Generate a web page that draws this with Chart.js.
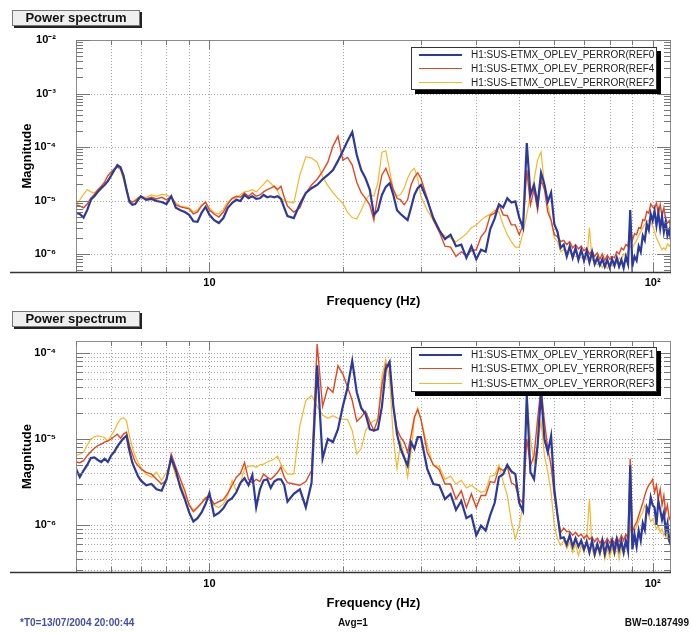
<!DOCTYPE html>
<html>
<head>
<meta charset="utf-8">
<script src="https://cdn.jsdelivr.net/npm/chart.js@4.4.1/dist/chart.umd.min.js"></script>
<style>
  body { margin: 0; background: #fff; width: 692px; height: 633px; position: relative; overflow: hidden;
         font-family: "Liberation Sans", Arial, sans-serif; }
  .plot { position: absolute; left: 0; width: 692px; height: 315px; }
  .title-box { position: absolute; left: 12px; width: 126px; height: 14px; border: 1px solid #777;
               background: #efefef; box-shadow: 2px 2px 0 #222; font-weight: bold; font-size: 13px;
               line-height: 14px; text-align: center; color: #111; }
  .legend { position: absolute; left: 411px; width: 244px; height: 41px; border: 1px solid #333;
            background: #fff; box-shadow: 4px 4px 0 #000; overflow: hidden; font-size: 10px; color: #222; }
  .legend .row { position: absolute; left: 0; width: 100%; height: 14px; }
  .legend .sw { position: absolute; left: 7px; width: 43px; top: 6px; }
  .legend .lab { position: absolute; left: 59px; top: 0; line-height: 14px; white-space: nowrap; }
  .foot { position: absolute; top: 617px; font-weight: bold; font-size: 10px; line-height: 12px; }
</style>
</head>
<body>

<div class="plot" style="top:0"><canvas id="topChart" width="692" height="315"></canvas></div>
<div class="plot" style="top:300px"><canvas id="botChart" width="692" height="315"></canvas></div>

<div class="title-box" style="top:10px">Power spectrum</div>
<div class="title-box" style="top:311px">Power spectrum</div>

<div class="legend" id="topLegend" style="top:47px"></div>
<div class="legend" id="botLegend" style="top:347px; height:43px"></div>

<div class="foot" style="left:20px; color:#4250a8">*T0=13/07/2004 20:00:44</div>
<div class="foot" style="left:338px; color:#111">Avg=1</div>
<div class="foot" style="right:3px; color:#111">BW=0.187499</div>

<script>
// --- Data ---
const freqs = [
  5.0, 5.1, 5.2, 5.3, 5.4, 5.5, 5.6, 5.7, 5.8, 5.9, 6.0, 6.1, 6.2, 6.3, 6.4, 6.5, 6.6, 6.7, 6.8, 6.9, 7.0,
  7.2, 7.4, 7.6, 7.8, 8.0, 8.2, 8.4, 8.6, 8.8, 9.0, 9.2, 9.4, 9.6, 9.8, 10.0,
  10.25, 10.5, 10.75, 11.0, 11.25, 11.5, 11.75, 12.0, 12.25, 12.5, 12.75, 13.0, 13.25, 13.5, 13.75, 14.0, 14.25, 14.5, 14.75, 15.0,
  15.5, 16.0, 16.5, 17.0, 17.5, 18.0, 18.5, 19.0, 19.5, 20.0,
  20.5, 21.0, 21.5, 22.0, 22.5, 23.0, 23.5, 24.0, 24.5, 25.0, 25.5, 26.0, 26.5, 27.0, 27.5, 28.0, 28.5, 29.0, 29.5, 30.0,
  31, 32, 33, 34, 35, 36, 37, 38, 39, 40, 41, 42, 43, 44, 45, 46, 47, 48, 49, 50,
  51, 52, 53, 54, 55, 56, 57, 58, 59, 60, 61, 62, 63, 64, 65, 66, 67, 68, 69, 70,
  71, 72, 73, 74, 75, 76, 77, 78, 79, 80, 81, 82, 83, 84, 85, 86, 87, 88, 89, 90,
  91, 92, 93, 94, 95, 96, 97, 98, 99, 100, 101, 102, 103, 104, 105, 106, 107, 108, 109, 110
];

// top panel: PERROR
const topBlue = [
  5.9e-6, 5.6e-6, 4.8e-6, 6.6e-6, 1.03e-5, 1.2e-5, 1.45e-5, 1.7e-5, 1.95e-5, 2.3e-5, 2.9e-5, 3.7e-5, 4.6e-5, 4.2e-5, 2.9e-5, 1.6e-5, 9.4e-6, 8.3e-6, 8.6e-6, 1.03e-5, 1.2e-5,
  1.03e-5, 1.07e-5, 9.8e-6, 9.4e-6, 8.6e-6, 1.2e-5, 7.3e-6, 6.6e-6, 6.1e-6, 5.4e-6, 4.1e-6, 4.0e-6, 5.9e-6, 7.6e-6, 5.4e-6,
  4.3e-6, 3.8e-6, 4.7e-6, 7.3e-6, 9.0e-6, 1.03e-5, 9.8e-6, 1.27e-5, 1.1e-5, 1.2e-5, 1.07e-5, 1.1e-5, 1.27e-5, 1.15e-5, 1.2e-5, 1.15e-5, 1.2e-5, 1.07e-5, 7.3e-6, 5.1e-6,
  4.7e-6, 8.6e-6, 1.38e-5, 1.7e-5, 1.95e-5, 2.5e-5, 3.0e-5, 3.7e-5, 5.5e-5, 8.4e-5,
  1.3e-4, 1.9e-4, 7.1e-5, 3.7e-5, 2.6e-5, 1.6e-5, 5.4e-6, 6.6e-6, 1.27e-5, 1.8e-5, 2.1e-5, 1.27e-5, 6.6e-6, 5.6e-6, 4.9e-6, 4.3e-6, 7.3e-6, 1.27e-5, 1.7e-5, 1.95e-5,
  1.03e-5, 4.7e-6, 2.8e-6, 1.9e-6, 2.3e-6, 1.4e-6, 1.5e-6, 8.5e-7, 1.4e-6, 8.0e-7,
  1.2e-6, 1.1e-6, 2.9e-6, 4.6e-6, 8.5e-6, 7.4e-6, 1.1e-5, 9.2e-6, 9.6e-6, 4.8e-6,
  3.1e-6, 1.19e-4, 1.27e-5, 1.95e-5, 8.5e-6, 3.3e-5, 2.0e-5, 9.5e-6, 1.4e-5, 3.6e-6,
  2.6e-6, 1.3e-6, 1.5e-6, 9.0e-7, 1.4e-6, 8.5e-7, 1.3e-6, 7.8e-7, 1.2e-6, 7.5e-7,
  1.15e-6, 7.0e-7, 1.1e-6, 6.5e-7, 8.5e-7, 6.2e-7, 8.0e-7, 5.8e-7, 7.8e-7, 5.6e-7,
  8.0e-7, 6.0e-7, 8.5e-7, 5.8e-7, 7.8e-7, 5.5e-7, 9.0e-7, 6.5e-7, 6.6e-6, 6.0e-7,
  9.0e-7, 7.5e-7, 1.4e-6, 1.1e-6, 2.2e-6, 1.8e-6, 3.6e-6, 2.8e-6, 5.6e-6, 4.2e-6,
  6.4e-6, 3.4e-6, 5.8e-6, 3.0e-6, 5.0e-6, 2.6e-6, 4.0e-6, 2.2e-6, 2.8e-6, 1.8e-6
];
const topRed = [
  8.3e-6, 7.9e-6, 7.3e-6, 8.6e-6, 1.1e-5, 1.3e-5, 1.6e-5, 1.85e-5, 2.2e-5, 2.9e-5, 3.4e-5, 3.9e-5, 4.2e-5, 4.0e-5, 2.9e-5, 1.65e-5, 1.03e-5, 9.4e-6, 9.8e-6, 1.1e-5, 1.15e-5,
  1.07e-5, 1.15e-5, 1.07e-5, 1.15e-5, 1.03e-5, 1.2e-5, 8.3e-6, 7.6e-6, 7.3e-6, 7.0e-6, 5.6e-6, 6.1e-6, 7.9e-6, 9.4e-6, 6.6e-6,
  5.6e-6, 4.9e-6, 6.1e-6, 8.6e-6, 1.1e-5, 1.2e-5, 1.15e-5, 1.38e-5, 1.2e-5, 1.38e-5, 1.2e-5, 1.27e-5, 1.45e-5, 1.6e-5, 1.7e-5, 1.85e-5, 1.6e-5, 1.85e-5, 1.15e-5, 7.9e-6,
  6.1e-6, 7.3e-6, 1.38e-5, 1.95e-5, 2.5e-5, 3.5e-5, 5.2e-5, 1.04e-4, 1.6e-4, 5.7e-5,
  6.4e-5, 4.6e-5, 2.2e-5, 1.4e-5, 1.1e-5, 8.3e-6, 4.3e-6, 1.27e-5, 3.0e-5, 4.0e-5, 2.6e-5, 1.6e-5, 1.1e-5, 1.03e-5, 8.3e-6, 1.03e-5, 1.95e-5, 2.7e-5, 3.3e-5, 2.6e-5,
  1.1e-5, 4.3e-6, 2.6e-6, 1.4e-6, 1.35e-6, 9.0e-7, 1.1e-6, 9.5e-7, 1.15e-6, 1.2e-6,
  2.1e-6, 2.7e-6, 5.3e-6, 5.8e-6, 8.4e-6, 5.4e-6, 5.2e-6, 3.5e-6, 3.5e-6, 2.3e-6,
  3.5e-6, 3.7e-5, 8.3e-6, 1.6e-5, 6.6e-6, 2.4e-5, 1.6e-5, 6.1e-6, 4.3e-6, 2.3e-6,
  2.1e-6, 1.7e-6, 1.8e-6, 1.5e-6, 1.7e-6, 1.3e-6, 1.5e-6, 1.25e-6, 1.4e-6, 1.15e-6,
  1.3e-6, 1.0e-6, 1.15e-6, 9.0e-7, 1.05e-6, 8.0e-7, 1.0e-6, 7.6e-7, 9.5e-7, 8.0e-7,
  9.0e-7, 8.5e-7, 1.1e-6, 1.0e-6, 1.3e-6, 1.2e-6, 1.5e-6, 1.4e-6, 3.5e-6, 1.8e-6,
  2.4e-6, 2.3e-6, 3.1e-6, 3.0e-6, 4.4e-6, 4.2e-6, 6.2e-6, 5.8e-6, 8.6e-6, 7.6e-6,
  7.2e-6, 9.0e-6, 5.6e-6, 8.4e-6, 5.0e-6, 7.3e-6, 4.4e-6, 3.8e-6, 4.2e-6, 2.8e-6
];
const topYellow = [
  8.3e-6, 1.03e-5, 1.3e-5, 1.6e-5, 1.45e-5, 1.38e-5, 1.6e-5, 1.8e-5, 2.0e-5, 2.4e-5, 3.1e-5, 3.7e-5, 4.2e-5, 3.7e-5, 2.4e-5, 1.45e-5, 9.8e-6, 9.0e-6, 1.03e-5, 1.15e-5, 1.2e-5,
  1.15e-5, 1.27e-5, 1.2e-5, 1.3e-5, 1.27e-5, 1.15e-5, 9.0e-6, 7.9e-6, 7.6e-6, 7.3e-6, 6.1e-6, 6.6e-6, 8.3e-6, 9.0e-6, 7.3e-6,
  5.9e-6, 5.6e-6, 6.9e-6, 9.4e-6, 1.07e-5, 1.1e-5, 1.3e-5, 1.45e-5, 1.5e-5, 1.6e-5, 1.45e-5, 1.7e-5, 2.0e-5, 2.4e-5, 2.1e-5, 1.8e-5, 1.5e-5, 1.1e-5, 1.0e-5, 9.5e-6,
  9.0e-6, 3.0e-5, 6.6e-5, 6.2e-5, 5.2e-5, 2.8e-5, 1.9e-5, 1.4e-5, 1.1e-5, 8.8e-6,
  6.0e-6, 4.8e-6, 4.5e-6, 6.6e-6, 1.0e-5, 1.3e-5, 1.2e-5, 2.2e-5, 8.0e-5, 8.5e-5, 3.7e-5, 1.6e-5, 1.2e-5, 1.3e-5, 1.7e-5, 2.6e-5, 3.5e-5, 4.0e-5, 2.6e-5, 1.2e-5,
  6.6e-6, 4.3e-6, 2.6e-6, 2.2e-6, 2.0e-6, 1.7e-6, 2.0e-6, 2.4e-6, 3.1e-6, 3.5e-6,
  4.3e-6, 5.0e-6, 5.5e-6, 6.6e-6, 6.1e-6, 3.5e-6, 2.3e-6, 1.7e-6, 1.35e-6, 1.35e-6,
  2.5e-6, 5.4e-6, 1.27e-5, 2.4e-5, 5.7e-5, 8.1e-5, 1.95e-5, 8.3e-6, 4.3e-6, 2.0e-6,
  1.7e-6, 1.1e-6, 1.2e-6, 1.15e-6, 1.05e-6, 9.5e-7, 9.0e-7, 8.8e-7, 8.5e-7, 8.2e-7,
  7.8e-7, 3.1e-6, 7.6e-7, 7.4e-7, 6.3e-7, 6.8e-7, 5.6e-7, 6.6e-7, 5.4e-7, 6.4e-7,
  6.0e-7, 7.1e-7, 6.6e-7, 8.4e-7, 7.8e-7, 1.0e-6, 9.3e-7, 1.1e-6, 1.4e-6, 1.3e-6,
  1.55e-6, 1.8e-6, 2.2e-6, 2.6e-6, 3.1e-6, 3.6e-6, 4.0e-6, 4.3e-6, 4.0e-6, 3.3e-6,
  2.6e-6, 2.0e-6, 1.7e-6, 1.4e-6, 1.2e-6, 1.3e-6, 1.2e-6, 1.55e-6, 1.4e-6, 1.55e-6
];

// bottom panel: YERROR
const botBlue = [
  4.5e-6, 3.6e-6, 4.3e-6, 5.0e-6, 6.0e-6, 6.1e-6, 5.7e-6, 5.4e-6, 5.9e-6, 5.4e-6, 6.4e-6, 7.1e-6, 8.2e-6, 9.2e-6, 1.02e-5, 1.09e-5, 7.3e-6, 5.3e-6, 4.4e-6, 3.7e-6, 3.3e-6,
  2.9e-6, 3.0e-6, 2.6e-6, 2.5e-6, 3.4e-6, 6.0e-6, 4.3e-6, 2.7e-6, 2.0e-6, 1.4e-6, 1.1e-6, 1.2e-6, 1.4e-6, 1.75e-6, 2.35e-6,
  1.28e-6, 1.38e-6, 1.56e-6, 1.9e-6, 2.05e-6, 2.4e-6, 3.1e-6, 3.5e-6, 2.9e-6, 3.8e-6, 1.6e-6, 2.6e-6, 3.3e-6, 3.4e-6, 2.7e-6, 3.2e-6, 3.4e-6, 3.4e-6, 2.9e-6, 1.87e-6,
  2.3e-6, 2.6e-6, 1.6e-6, 3.1e-6, 7.2e-5, 5.9e-6, 1.0e-5, 9.2e-6, 1.3e-5, 2.4e-5,
  4.0e-5, 8.1e-5, 3.5e-5, 2.3e-5, 1.95e-5, 1.3e-5, 1.25e-5, 1.3e-5, 2.4e-5, 6.5e-5, 7.9e-5, 2.4e-5, 1.14e-5, 7.7e-6, 6.1e-6, 4.9e-6, 9.2e-6, 7.7e-6, 1.05e-5, 1.05e-5,
  4.5e-6, 3.0e-6, 2.9e-6, 2.0e-6, 2.3e-6, 1.5e-6, 1.9e-6, 1.2e-6, 1.3e-6, 7.6e-7,
  9.8e-7, 8.6e-7, 1.3e-6, 1.8e-6, 3.6e-6, 3.9e-6, 5.0e-6, 4.2e-6, 3.9e-6, 1.8e-6,
  1.45e-6, 3.2e-5, 4.1e-6, 3.4e-6, 8.4e-6, 3.5e-5, 1.0e-5, 7.0e-6, 1.09e-5, 2.6e-6,
  1.3e-6, 7.0e-7, 7.2e-7, 5.9e-7, 7.6e-7, 5.6e-7, 7.0e-7, 5.6e-7, 6.6e-7, 5.2e-7,
  6.4e-7, 4.8e-7, 6.6e-7, 4.6e-7, 6.0e-7, 4.8e-7, 6.6e-7, 4.6e-7, 6.2e-7, 5.0e-7,
  6.6e-7, 4.9e-7, 6.8e-7, 5.1e-7, 6.5e-7, 4.8e-7, 6.6e-7, 5.0e-7, 4.9e-6, 5.2e-7,
  7.8e-7, 5.6e-7, 8.6e-7, 6.6e-7, 1.05e-6, 8.8e-7, 1.6e-6, 1.4e-6, 2.1e-6, 1.7e-6,
  1.6e-6, 1.0e-6, 1.9e-6, 1.5e-6, 1.15e-6, 1.4e-6, 8.5e-7, 1.05e-6, 6.5e-7, 5.8e-7
];
const botRed = [
  5.4e-6, 5.3e-6, 5.6e-6, 6.4e-6, 7.1e-6, 7.8e-6, 8.4e-6, 8.7e-6, 9.2e-6, 9.5e-6, 1.0e-5, 1.07e-5, 1.14e-5, 1.02e-5, 1.14e-5, 1.2e-5, 8.4e-6, 6.7e-6, 5.4e-6, 4.9e-6, 4.5e-6,
  4.1e-6, 3.9e-6, 3.4e-6, 3.0e-6, 3.3e-6, 6.7e-6, 4.7e-6, 3.4e-6, 2.5e-6, 1.7e-6, 1.43e-6, 1.6e-6, 1.8e-6, 2.05e-6, 2.15e-6,
  1.75e-6, 1.87e-6, 1.97e-6, 2.35e-6, 2.9e-6, 3.6e-6, 4.0e-6, 5.3e-6, 3.4e-6, 3.1e-6, 3.4e-6, 3.2e-6, 3.9e-6, 3.6e-6, 3.4e-6, 3.7e-6, 4.1e-6, 4.7e-6, 3.6e-6, 3.1e-6,
  3.0e-6, 2.9e-6, 3.2e-6, 4.3e-6, 1.27e-4, 2.4e-5, 4.0e-5, 3.5e-5, 7.1e-5, 5.7e-5,
  4.0e-5, 2.8e-5, 1.6e-5, 1.8e-5, 2.1e-5, 1.6e-5, 1.25e-5, 1.7e-5, 4.2e-5, 7.4e-5, 6.8e-5, 2.4e-5, 1.3e-5, 1.05e-5, 9.2e-6, 7.0e-6, 1.09e-5, 1.8e-5, 2.2e-5, 1.7e-5,
  7.0e-6, 5.0e-6, 4.4e-6, 3.0e-6, 3.0e-6, 2.0e-6, 2.5e-6, 1.6e-6, 2.3e-6, 1.6e-6,
  2.2e-6, 2.2e-6, 3.2e-6, 3.1e-6, 4.6e-6, 4.3e-6, 4.8e-6, 3.1e-6, 2.9e-6, 2.0e-6,
  1.8e-6, 1.0e-5, 4.9e-6, 6.4e-6, 1.7e-5, 4.0e-5, 1.6e-5, 7.7e-6, 4.9e-6, 2.2e-6,
  1.3e-6, 8.2e-7, 9.2e-7, 8.4e-7, 8.4e-7, 7.6e-7, 8.2e-7, 7.4e-7, 7.8e-7, 7.0e-7,
  7.6e-7, 6.8e-7, 7.2e-7, 6.4e-7, 7.0e-7, 6.2e-7, 6.8e-7, 6.1e-7, 7.0e-7, 6.2e-7,
  6.9e-7, 6.1e-7, 7.2e-7, 6.4e-7, 7.6e-7, 6.6e-7, 7.8e-7, 7.0e-7, 5.9e-6, 8.2e-7,
  9.8e-7, 1.07e-6, 1.28e-6, 1.53e-6, 1.8e-6, 2.2e-6, 2.6e-6, 2.9e-6, 3.1e-6, 3.4e-6,
  2.4e-6, 2.9e-6, 2.0e-6, 2.6e-6, 1.7e-6, 2.2e-6, 1.4e-6, 1.7e-6, 1.17e-6, 1.28e-6
];
const botYellow = [
  6.4e-6, 6.7e-6, 7.0e-6, 8.5e-6, 1.0e-5, 1.06e-5, 1.09e-5, 1.07e-5, 1.04e-5, 9.3e-6, 1.09e-5, 1.25e-5, 1.5e-5, 1.7e-5, 1.77e-5, 1.63e-5, 1.09e-5, 8.0e-6, 6.4e-6, 5.4e-6, 4.7e-6,
  3.9e-6, 3.6e-6, 4.1e-6, 3.3e-6, 4.1e-6, 5.6e-6, 3.7e-6, 3.0e-6, 2.2e-6, 1.75e-6, 1.5e-6, 1.6e-6, 1.8e-6, 2.1e-6, 2.2e-6,
  1.7e-6, 1.6e-6, 1.75e-6, 2.2e-6, 3.3e-6, 2.5e-6, 3.1e-6, 4.5e-6, 4.8e-6, 4.9e-6, 4.7e-6, 5.0e-6, 5.1e-6, 5.4e-6, 5.6e-6, 5.9e-6, 6.3e-6, 5.1e-6, 4.4e-6, 3.9e-6,
  3.9e-6, 1.43e-5, 2.8e-5, 3.2e-5, 2.4e-5, 1.9e-5, 1.74e-5, 1.87e-5, 1.74e-5, 1.7e-5,
  1.68e-5, 1.25e-5, 6.7e-6, 7.7e-6, 1.25e-5, 1.5e-5, 1.63e-5, 1.7e-5, 5.4e-5, 8.4e-5, 5.0e-5, 1.0e-5, 4.5e-6, 9.2e-6, 6.4e-6, 3.6e-6, 7.0e-6, 1.7e-5, 2.3e-5, 1.7e-5,
  8.4e-6, 4.9e-6, 4.8e-6, 3.4e-6, 3.7e-6, 3.0e-6, 3.3e-6, 2.7e-6, 2.9e-6, 2.6e-6,
  2.4e-6, 2.5e-6, 3.7e-6, 3.8e-6, 5.0e-6, 3.2e-6, 2.2e-6, 1.1e-6, 6.9e-7, 9.8e-7,
  1.7e-6, 3.2e-5, 1.0e-5, 5.4e-6, 8.4e-6, 1.6e-5, 6.4e-6, 4.1e-6, 2.4e-6, 9.8e-7,
  6.9e-7, 5.8e-7, 6.6e-7, 5.3e-7, 6.3e-7, 4.8e-7, 6.0e-7, 4.4e-7, 5.8e-7, 4.8e-7,
  6.9e-7, 2.0e-6, 5.3e-7, 4.2e-7, 5.5e-7, 4.4e-7, 5.8e-7, 4.0e-7, 5.3e-7, 4.2e-7,
  5.5e-7, 4.4e-7, 5.8e-7, 4.0e-7, 5.5e-7, 4.6e-7, 6.3e-7, 5.3e-7, 9.8e-7, 6.9e-7,
  8.2e-7, 9.8e-7, 1.1e-6, 1.28e-6, 1.4e-6, 1.7e-6, 1.53e-6, 1.28e-6, 1.1e-6, 1.17e-6,
  1.03e-6, 9.0e-7, 9.8e-7, 8.2e-7, 9.0e-7, 7.5e-7, 8.2e-7, 6.9e-7, 7.5e-7, 6.3e-7
];

const topLabels = ['H1:SUS-ETMX_OPLEV_PERROR(REF0', 'H1:SUS-ETMX_OPLEV_PERROR(REF4', 'H1:SUS-ETMX_OPLEV_PERROR(REF2'];
const botLabels = ['H1:SUS-ETMX_OPLEV_YERROR(REF1', 'H1:SUS-ETMX_OPLEV_YERROR(REF5', 'H1:SUS-ETMX_OPLEV_YERROR(REF3'];
const xTickValues = [5, 6, 7, 8, 9, 10, 20, 30, 40, 50, 60, 70, 80, 90, 100];
const topRange = [4.61e-7, 1e-2];
const botRange = [2.84e-7, 1.38e-4];

const colors = ['#2b3a9c', '#e4481f', '#f6b82a'];
const widths = [2.2, 1.4, 1.2];
const FONT = '"Liberation Sans", Arial, sans-serif';

// --- Helpers ---
const SUP = { '-': '⁻', '0': '⁰', '1': '¹', '2': '²', '3': '³', '4': '⁴', '5': '⁵', '6': '⁶', '7': '⁷', '8': '⁸', '9': '⁹' };
const isDecade = v => Math.abs(Math.log10(v) - Math.round(Math.log10(v))) < 1e-6;
const powLabel = v => '10' + String(Math.round(Math.log10(v))).split('').map(c => SUP[c]).join('');

function logTicks(min, max) {
    const out = [];
    for (let e = Math.floor(Math.log10(min)); e <= Math.ceil(Math.log10(max)); e++) {
        for (let m = 1; m <= 9; m++) {
            const v = +(m * Math.pow(10, e)).toPrecision(3);
            if (v >= min * 0.999 && v <= max * 1.001) out.push(v);
        }
    }
    return out;
}

// ROOT-like frame: dotted grid, inward ticks, long bottom axis line
const rootFrame = {
    id: 'rootFrame',
    beforeDatasetsDraw(chart, args, opts) {
        const { ctx, chartArea: a, scales: { x, y } } = chart;
        ctx.save();
        ctx.strokeStyle = '#a4a4a4';
        ctx.lineWidth = 1;
        ctx.setLineDash([1, 2]);
        ctx.beginPath();
        xTickValues.forEach(v => {
            const px = Math.round(x.getPixelForValue(v)) + 0.5;
            if (px <= a.left + 1 || px >= a.right - 1) return;
            ctx.moveTo(px, a.top); ctx.lineTo(px, a.bottom);
        });
        y.ticks.forEach(t => {
            if (!opts.minorGrid && !isDecade(t.value)) return;
            const py = Math.round(y.getPixelForValue(t.value)) + 0.5;
            if (py <= a.top + 1 || py >= a.bottom - 1) return;
            ctx.moveTo(a.left, py); ctx.lineTo(a.right, py);
        });
        ctx.stroke();
        ctx.restore();
    },
    afterDatasetsDraw(chart) {
        const { ctx, chartArea: a, scales: { x, y } } = chart;
        ctx.save();
        ctx.setLineDash([]);
        ctx.strokeStyle = '#8c8c8c';
        ctx.lineWidth = 1;
        ctx.strokeRect(a.left + 0.5, a.top + 0.5, a.right - a.left - 1, a.bottom - a.top);
        ctx.strokeStyle = '#777';
        ctx.beginPath();
        y.ticks.forEach(t => {
            const py = Math.round(y.getPixelForValue(t.value)) + 0.5;
            const len = isDecade(t.value) ? 14 : 7;
            ctx.moveTo(a.left, py); ctx.lineTo(a.left + len, py);
            ctx.moveTo(a.right, py); ctx.lineTo(a.right - len, py);
        });
        xTickValues.forEach(v => {
            const px = Math.round(x.getPixelForValue(v)) + 0.5;
            const len = (v === 10 || v === 100) ? 9 : 5;
            ctx.moveTo(px, a.bottom); ctx.lineTo(px, a.bottom - len);
            ctx.moveTo(px, a.top); ctx.lineTo(px, a.top + len);
        });
        ctx.stroke();
        ctx.strokeStyle = '#333';
        ctx.lineWidth = 1.5;
        ctx.beginPath();
        ctx.moveTo(10, a.bottom + 0.5); ctx.lineTo(a.right, a.bottom + 0.5);
        ctx.stroke();
        ctx.restore();
    }
};

function makeChart(id, series, range, cfg) {
    const ctx = document.getElementById(id).getContext('2d');
    return new Chart(ctx, {
        type: 'line',
        data: {
            datasets: series.map((vals, i) => ({
                data: freqs.map((f, k) => ({ x: f, y: vals[k] })),
                borderColor: colors[i],
                borderWidth: widths[i],
                pointRadius: 0,
                tension: 0,
                fill: false
            }))
        },
        options: {
            responsive: false,
            animation: false,
            devicePixelRatio: 1,
            layout: { padding: { top: cfg.padTop, right: 21, bottom: 0, left: 0 } },
            plugins: { legend: { display: false }, tooltip: { enabled: false }, rootFrame: { minorGrid: cfg.minorGrid } },
            scales: {
                x: {
                    type: 'logarithmic', min: 5, max: 110, bounds: 'data',
                    grid: { display: false, drawTicks: false },
                    border: { display: false },
                    afterBuildTicks: s => { s.ticks = xTickValues.map(v => ({ value: v })); },
                    afterFit: s => { s.height = 43; },
                    ticks: {
                        autoSkip: false, maxRotation: 0, padding: cfg.xTickPad, color: '#000',
                        font: { family: FONT, size: 11, weight: 'bold' },
                        callback: v => (v === 10 ? '10' : v === 100 ? '10²' : '')
                    },
                    title: {
                        display: true, text: 'Frequency (Hz)', color: '#000',
                        font: { family: FONT, size: 13, weight: 'bold' },
                        padding: { top: 0, bottom: cfg.xTitlePad }
                    }
                },
                y: {
                    type: 'logarithmic', min: range[0], max: range[1], bounds: 'data',
                    grid: { display: false, drawTicks: false },
                    border: { display: false },
                    afterBuildTicks: s => { s.ticks = logTicks(range[0], range[1]).map(v => ({ value: v })); },
                    afterFit: s => { s.width = 76; },
                    ticks: {
                        autoSkip: false, padding: 20, color: '#000',
                        font: { family: FONT, size: 11, weight: 'bold' },
                        callback: v => (isDecade(v) ? powLabel(v) : '')
                    },
                    title: {
                        display: true, text: 'Magnitude', color: '#000',
                        font: { family: FONT, size: 13, weight: 'bold' },
                        padding: { top: 20, bottom: 0 }
                    }
                }
            }
        },
        plugins: [rootFrame]
    });
}

function buildLegend(id, labels, rowTops) {
    const box = document.getElementById(id);
    labels.forEach((lab, i) => {
        const row = document.createElement('div');
        row.className = 'row';
        row.style.top = rowTops[i] + 'px';
        row.innerHTML = `<div class="sw" style="border-top:${widths[i]}px solid ${colors[i]}"></div><div class="lab">${lab}</div>`;
        box.appendChild(row);
    });
}

makeChart('topChart', [topBlue, topRed, topYellow], topRange, { padTop: 40, minorGrid: false, xTickPad: 4, xTitlePad: 6 });
makeChart('botChart', [botBlue, botRed, botYellow], botRange, { padTop: 41, minorGrid: true, xTickPad: 5, xTitlePad: 4 });
buildLegend('topLegend', topLabels, [0, 14, 28]);
buildLegend('botLegend', botLabels, [0, 14, 29]);
</script>
</body>
</html>
